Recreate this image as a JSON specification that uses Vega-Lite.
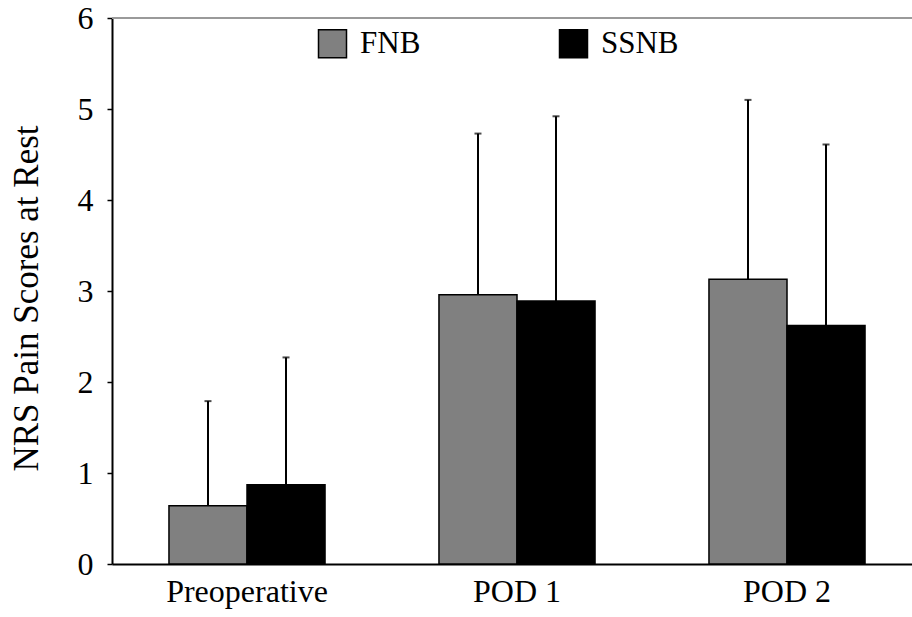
{
  "$schema": "https://vega.github.io/schema/vega-lite/v6.json",
  "width": 800,
  "height": 546,
  "autosize": {"type": "none"},
  "padding": {"left": 112, "top": 18, "right": 0, "bottom": 53},
  "background": "white",
  "config": {
    "view": {"stroke": null},
    "font": "Liberation Serif"
  },
  "data": {
    "values": [
      {"time": "Preoperative", "group": "FNB", "mean": 0.64, "upper": 1.79},
      {"time": "Preoperative", "group": "SSNB", "mean": 0.87, "upper": 2.27},
      {"time": "POD 1", "group": "FNB", "mean": 2.96, "upper": 4.73},
      {"time": "POD 1", "group": "SSNB", "mean": 2.89, "upper": 4.92},
      {"time": "POD 2", "group": "FNB", "mean": 3.13, "upper": 5.10},
      {"time": "POD 2", "group": "SSNB", "mean": 2.62, "upper": 4.61}
    ]
  },
  "encoding": {
    "x": {
      "field": "time",
      "type": "nominal",
      "sort": ["Preoperative", "POD 1", "POD 2"],
      "scale": {"range": [0, 810], "paddingInner": 0, "paddingOuter": 0},
      "axis": {
        "title": null,
        "labelAngle": 0,
        "labelFont": "Liberation Serif",
        "labelFontSize": 32,
        "labelColor": "black",
        "labelPadding": 12,
        "ticks": false,
        "domainColor": "black",
        "domainWidth": 2
      }
    },
    "xOffset": {
      "field": "group",
      "type": "nominal",
      "scale": {"paddingInner": 0, "paddingOuter": 0.73}
    }
  },
  "layer": [
    {
      "mark": {"type": "rule", "color": "#9a9a9a", "strokeWidth": 2},
      "encoding": {"y": {"datum": 6, "type": "quantitative"}, "x": null, "xOffset": null}
    },
    {
      "mark": {"type": "rule", "color": "black", "strokeWidth": 2},
      "encoding": {
        "y": {"field": "mean", "type": "quantitative"},
        "y2": {"field": "upper"}
      }
    },
    {
      "mark": {"type": "tick", "color": "black", "size": 7, "thickness": 2, "orient": "horizontal"},
      "encoding": {
        "y": {"field": "upper", "type": "quantitative"}
      }
    },
    {
      "mark": {"type": "bar", "stroke": "black", "strokeWidth": 1.5},
      "encoding": {
        "y": {
          "field": "mean",
          "type": "quantitative",
          "scale": {"domain": [0, 6], "nice": false},
          "axis": {
            "title": "NRS Pain Scores at Rest",
            "titleFont": "Liberation Serif",
            "titleFontSize": 35,
            "titleFontWeight": "normal",
            "titleColor": "black",
            "titleX": -75,
            "titleY": 280,
            "titleBaseline": "alphabetic",
            "titleAngle": 270,
            "titleAlign": "center",
            "values": [0, 1, 2, 3, 4, 5, 6],
            "format": "d",
            "labelFont": "Liberation Serif",
            "labelFontSize": 32,
            "labelColor": "black",
            "labelPadding": 14,
            "tickSize": 5,
            "tickColor": "black",
            "tickWidth": 1.5,
            "domainColor": "black",
            "domainWidth": 2,
            "grid": false
          }
        },
        "fill": {
          "field": "group",
          "type": "nominal",
          "scale": {"domain": ["FNB", "SSNB"], "range": ["#808080", "#000000"]},
          "legend": {
            "title": null,
            "orient": "none",
            "legendX": 205,
            "legendY": 10,
            "direction": "horizontal",
            "padding": 0,
            "symbolType": "square",
            "symbolSize": 784,
            "symbolStrokeColor": "black",
            "symbolStrokeWidth": 1.5,
            "symbolOpacity": 1,
            "labelFont": "Liberation Serif",
            "labelFontSize": 31,
            "labelColor": "black",
            "labelOffset": 12,
            "columnPadding": 135
          }
        }
      }
    }
  ]
}
